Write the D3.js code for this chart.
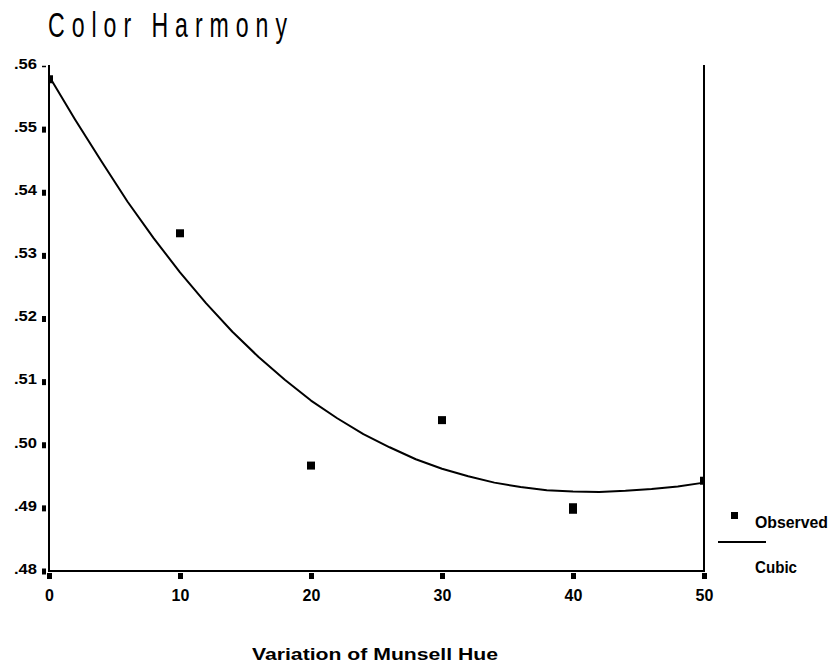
<!DOCTYPE html>
<html>
<head>
<meta charset="utf-8">
<script src="https://cdn.jsdelivr.net/npm/d3@7"></script>
<style>
  html, body { margin: 0; padding: 0; background: #fff; }
  svg { display: block; }
  text { font-family: "Liberation Sans", Arial, sans-serif; fill: #000; }
</style>
</head>
<body>
<svg id="chart" width="832" height="665"></svg>
<script>
// Observed color-harmony scores by variation of Munsell hue
const hueVariation = [0, 10, 20, 30, 40, 40, 50];
const observedHarmony = [0.5579, 0.5335, 0.4967, 0.5039, 0.4901, 0.4897, 0.4943];

// Cubic fit, sampled every 2 units of hue variation
const fitHue = [0, 2, 4, 6, 8, 10, 12, 14, 16, 18, 20, 22, 24, 26, 28, 30, 32, 34, 36, 38, 40, 42, 44, 46, 48, 50];
const fitHarmony = [0.5584, 0.5515, 0.5449, 0.5385, 0.5327, 0.5273, 0.5224, 0.5179, 0.5139, 0.5103,
                    0.5070, 0.5042, 0.5017, 0.4996, 0.4977, 0.4962, 0.4950, 0.4940, 0.4933, 0.4928,
                    0.4926, 0.4925, 0.4927, 0.4930, 0.4934, 0.4940];

// Axis ticks
const xTickValues = [0, 10, 20, 30, 40, 50];
const yTickValues = [0.48, 0.49, 0.50, 0.51, 0.52, 0.53, 0.54, 0.55, 0.56];

const svg = d3.select("#chart");
const margin = { left: 49, top: 66, right: 128, bottom: 94 };
const W = 832 - margin.left - margin.right;
const H = 665 - margin.top - margin.bottom;

const x = d3.scaleLinear().domain([0, 50]).range([0, W]);
const y = d3.scaleLinear().domain([0.48, 0.56]).range([H, 0]);

// Title (narrow, widely spaced lettering)
const titleScale = 0.66;
const titleG = svg.append("g").attr("transform", `translate(48,37) scale(${titleScale},1)`);
titleG.append("text")
  .attr("x", 0).attr("y", 0)
  .attr("font-size", 35)
  .attr("textLength", 239 / titleScale)
  .attr("lengthAdjust", "spacing")
  .text("Color Harmony");

const g = svg.append("g").attr("transform", `translate(${margin.left},${margin.top})`);

g.append("clipPath").attr("id", "plotClip")
  .append("rect").attr("x", 0).attr("y", -1).attr("width", W).attr("height", H + 1);

// Y axis
const yAxis = g.append("g")
  .call(d3.axisLeft(y).tickValues(yTickValues).tickSizeOuter(0)
    .tickFormat(d => d3.format(".2f")(d).replace(/^0/, "")));
yAxis.select(".domain").attr("stroke", "#000").attr("stroke-width", 2).attr("d", `M0,-1V${H + 1}`);
yAxis.selectAll(".tick line")
  .attr("x1", -3).attr("x2", -7)
  .attr("stroke", "#000")
  .attr("stroke-width", (d, i) => i === yTickValues.length - 1 ? 1.5 : 6);
yAxis.selectAll(".tick text")
  .attr("x", -12).attr("dy", "0.15em")
  .attr("font-size", 15).attr("font-weight", "bold")
  .attr("font-family", "Liberation Sans, Arial, sans-serif")
  .attr("textLength", 23).attr("lengthAdjust", "spacingAndGlyphs");

// X axis
const xAxis = g.append("g").attr("transform", `translate(0,${H})`)
  .call(d3.axisBottom(x).tickValues(xTickValues).tickSizeOuter(0).tickFormat(d3.format("d")));
xAxis.select(".domain").attr("stroke", "#000").attr("stroke-width", 2).attr("d", `M-1,0H${W + 1}`);
xAxis.selectAll(".tick line")
  .attr("y1", 2).attr("y2", 8)
  .attr("stroke", "#000").attr("stroke-width", 5);
xAxis.selectAll(".tick text")
  .attr("y", 30).attr("dy", 0)
  .attr("font-size", 16).attr("font-weight", "bold")
  .attr("font-family", "Liberation Sans, Arial, sans-serif");

// Right frame line
g.append("line")
  .attr("x1", W).attr("x2", W).attr("y1", -1).attr("y2", H)
  .attr("stroke", "#000").attr("stroke-width", 2);

// Cubic fit line
const fitData = fitHue.map((h, i) => [h, fitHarmony[i]]);
g.append("path")
  .datum(fitData)
  .attr("fill", "none")
  .attr("stroke", "#000")
  .attr("stroke-width", 2)
  .attr("stroke-linejoin", "round")
  .attr("d", d3.line().x(d => x(d[0])).y(d => y(d[1])));

// Observed points
const obsData = hueVariation.map((h, i) => [h, observedHarmony[i]]);
g.append("g").attr("clip-path", "url(#plotClip)")
  .selectAll("rect")
  .data(obsData)
  .join("rect")
  .attr("x", d => x(d[0]) - 4)
  .attr("y", d => y(d[1]) - 4)
  .attr("width", 8).attr("height", 8)
  .attr("fill", "#000");

// X axis title
svg.append("text")
  .attr("x", 375).attr("y", 660)
  .attr("text-anchor", "middle")
  .attr("font-size", 17).attr("font-weight", "bold")
  .attr("textLength", 246).attr("lengthAdjust", "spacingAndGlyphs")
  .text("Variation of Munsell Hue");

// Legend
const legend = svg.append("g");
legend.append("rect").attr("x", 731).attr("y", 512).attr("width", 7).attr("height", 7).attr("fill", "#000");
legend.append("text")
  .attr("x", 755).attr("y", 528)
  .attr("font-size", 16).attr("font-weight", "bold")
  .attr("textLength", 73).attr("lengthAdjust", "spacingAndGlyphs")
  .text("Observed");
legend.append("line")
  .attr("x1", 718).attr("x2", 766).attr("y1", 542).attr("y2", 542)
  .attr("stroke", "#000").attr("stroke-width", 2);
legend.append("text")
  .attr("x", 755).attr("y", 573)
  .attr("font-size", 16).attr("font-weight", "bold")
  .attr("textLength", 42).attr("lengthAdjust", "spacingAndGlyphs")
  .text("Cubic");
</script>
</body>
</html>
